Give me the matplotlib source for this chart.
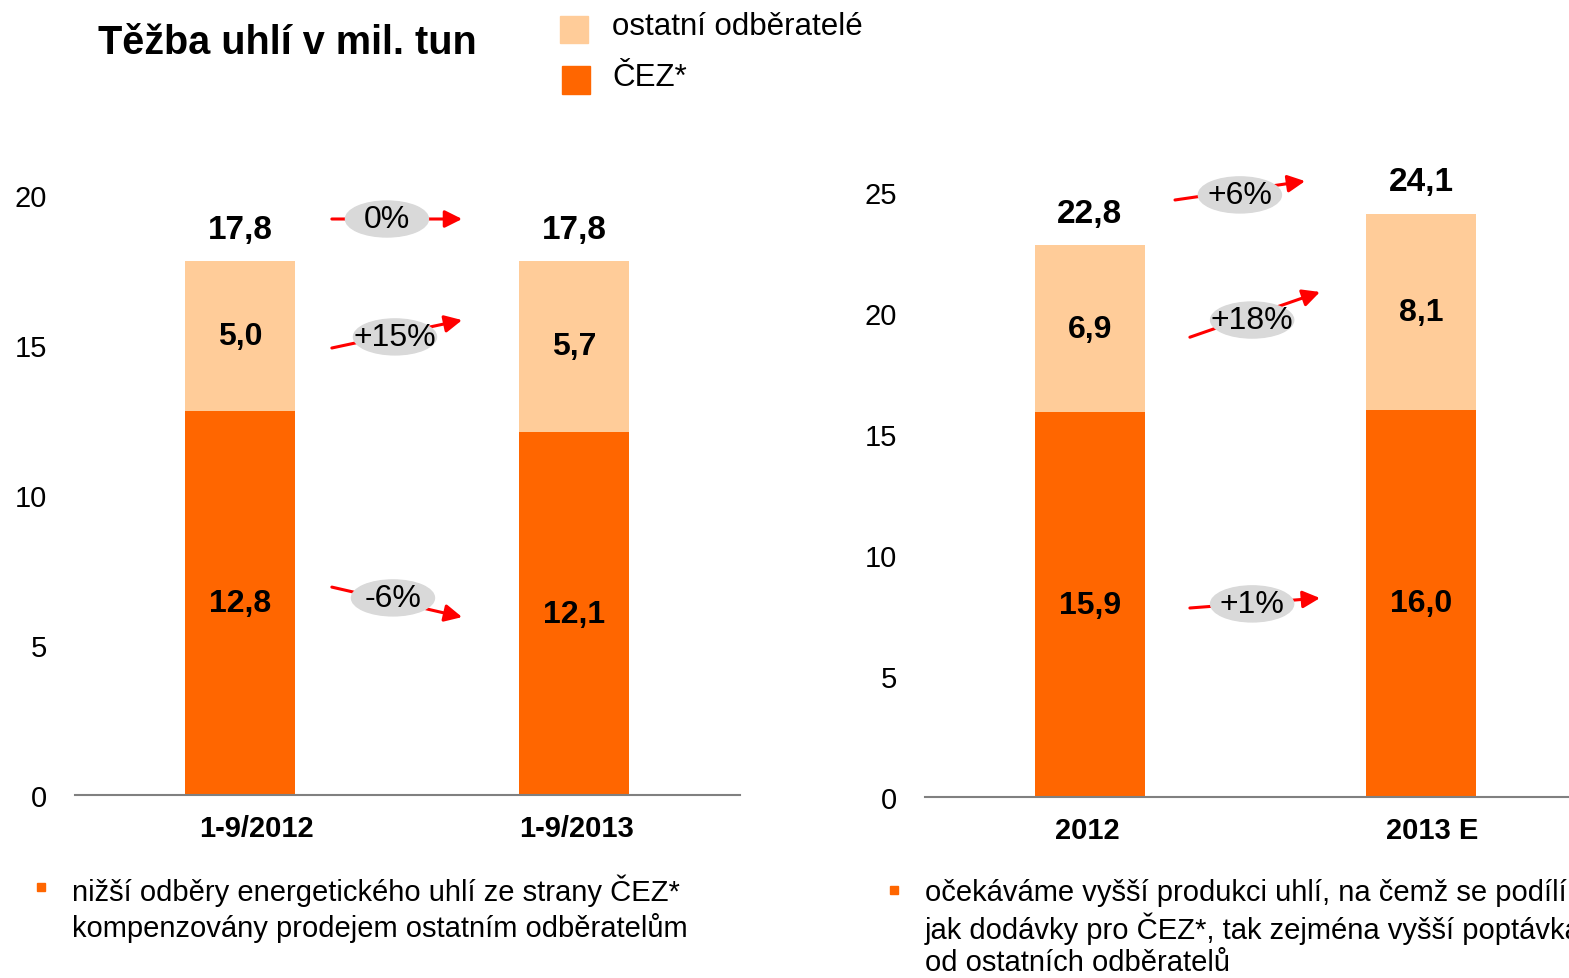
import matplotlib
matplotlib.use('Agg')
import matplotlib.pyplot as plt
from matplotlib.patches import Ellipse, Rectangle

plt.rcParams['font.family'] = ['Liberation Sans', 'DejaVu Sans']

# data
left_cats = ['1-9/2012', '1-9/2013']
left_cez = [12.8, 12.1]
left_other = [5.0, 5.7]
left_total = [17.8, 17.8]
left_pct = ['0%', '+15%', '-6%']

right_cats = ['2012', '2013 E']
right_cez = [15.9, 16.0]
right_other = [6.9, 8.1]
right_total = [22.8, 24.1]
right_pct = ['+6%', '+18%', '+1%']

fmt = lambda v: f'{v:.1f}'.replace('.', ',')

ORANGE = '#FF6600'
LIGHT = '#FFCC99'
W, H = 1569, 979

fig = plt.figure(figsize=(W / 100, H / 100), dpi=100)


def fx(px):
    return px / W


def fy(py):
    return 1 - py / H


def draw_panel(ax, cats, cez, other, total, ymax, pcts, arrows, ell_size, label_shift):
    x = list(range(len(cats)))
    ax.bar(x, cez, width=0.33, color=ORANGE, zorder=2)
    ax.bar(x, other, bottom=cez, width=0.33, color=LIGHT, zorder=2)
    for i in x:
        ax.text(i, cez[i] / 2, fmt(cez[i]), ha='center', va='center',
                fontsize=23, fontweight='bold')
        ax.text(i, cez[i] + other[i] / 2, fmt(other[i]), ha='center', va='center',
                fontsize=23, fontweight='bold')
        ax.annotate(fmt(total[i]), (i, total[i]), xytext=(0, 23), textcoords='offset points',
                    ha='center', va='center', fontsize=24, fontweight='bold',
                    annotation_clip=False)
    ax.set_ylim(0, ymax)
    ax.set_yticks(range(0, ymax + 1, 5))
    ax.set_xticks([i + s for i, s in zip(x, label_shift)])
    ax.set_xticklabels(cats, fontsize=21, fontweight='bold')
    ax.tick_params(axis='y', length=0, pad=20, labelsize=21)
    ax.tick_params(axis='x', length=0, pad=14)
    for s in ['top', 'right', 'left']:
        ax.spines[s].set_visible(False)
    ax.spines['bottom'].set_color('#808080')
    ax.spines['bottom'].set_linewidth(1.5)
    ax.spines['bottom'].set_zorder(3)
    ew, eh = ell_size
    for label, (start, end, centre) in zip(pcts, arrows):
        ax.annotate('', xy=end, xytext=start,
                    arrowprops=dict(arrowstyle='-|>', color='red', lw=2.2,
                                    mutation_scale=26, shrinkA=0, shrinkB=0),
                    annotation_clip=False, zorder=4)
        ax.add_patch(Ellipse(centre, ew, eh, color='#D9D9D9', zorder=5, clip_on=False))
        ax.text(centre[0], centre[1], label, ha='center', va='center', fontsize=23, zorder=6)


# left panel
ax1 = fig.add_axes([fx(75), fy(796), fx(740) - fx(75), fy(196) - fy(796)])
ax1.set_xlim(-0.494, 1.497)
left_arrows = [((0.275, 19.2), (0.665, 19.2), (0.44, 19.2)),
               ((0.275, 14.9), (0.665, 15.83), (0.464, 15.27)),
               ((0.275, 6.93), (0.665, 5.93), (0.458, 6.57))]
draw_panel(ax1, left_cats, left_cez, left_other, left_total, 20, left_pct,
           left_arrows, (0.2485, 1.2), (0.05, 0.006))

# right panel
ax2 = fig.add_axes([fx(925), fy(798), 1 - fx(925), fy(193) - fy(798)])
ax2.set_xlim(-0.498, 1.447)
right_arrows = [((0.257, 24.67), (0.65, 25.45), (0.453, 24.88)),
                ((0.302, 19.0), (0.695, 20.87), (0.49, 19.71)),
                ((0.302, 7.81), (0.695, 8.22), (0.49, 7.98))]
draw_panel(ax2, right_cats, right_cez, right_other, right_total, 25, right_pct,
           right_arrows, (0.251, 1.49), (-0.009, 0.033))

# title and legend
fig.text(fx(98), fy(43), 'Těžba uhlí v mil. tun', fontsize=28.5, fontweight='bold',
         ha='left', va='center')
fig.add_artist(Rectangle((fx(560), fy(44)), fx(28), fy(17) - fy(44), color=LIGHT,
                         transform=fig.transFigure))
fig.add_artist(Rectangle((fx(562), fy(95)), fx(28), fy(67) - fy(95), color=ORANGE,
                         transform=fig.transFigure))
fig.text(fx(612), fy(27), 'ostatní odběratelé', fontsize=22.5, ha='left', va='center')
fig.text(fx(612), fy(78), 'ČEZ*', fontsize=22.5, ha='left', va='center')

# notes
fig.add_artist(Rectangle((fx(37), fy(892)), fx(8), fy(884) - fy(892), color=ORANGE,
                         transform=fig.transFigure))
fig.add_artist(Rectangle((fx(890), fy(895)), fx(8), fy(887) - fy(895), color=ORANGE,
                         transform=fig.transFigure))
fig.text(fx(72), fy(875), 'nižší odběry energetického uhlí ze strany ČEZ*\n'
         'kompenzovány prodejem ostatním odběratelům',
         fontsize=21, ha='left', va='top', linespacing=1.23)
fig.text(fx(925), fy(879), 'očekáváme vyšší produkci uhlí, na čemž se podílí\n'
         'jak dodávky pro ČEZ*, tak zejména vyšší poptávka\n'
         'od ostatních odběratelů',
         fontsize=21, ha='left', va='top', linespacing=1.2)

fig.savefig('out.png', dpi=100)
